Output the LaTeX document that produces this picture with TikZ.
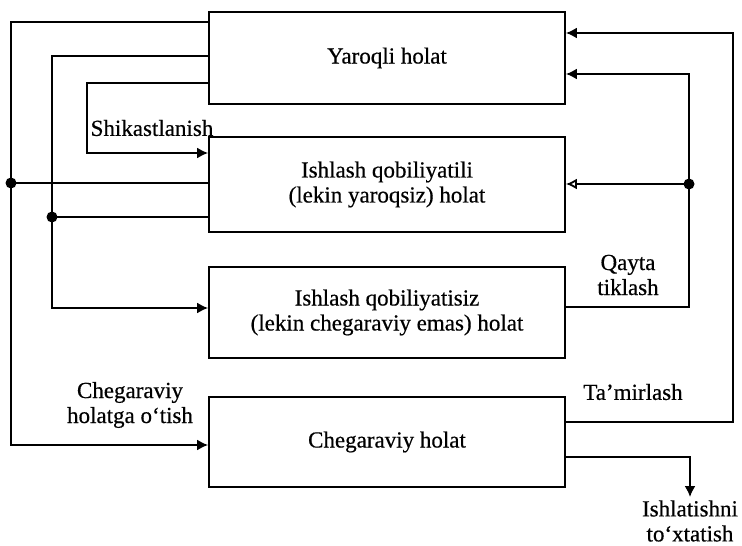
\documentclass[tikz,border=0pt]{standalone}
\usepackage{fontspec}
\setmainfont[FakeBold=0.5]{Liberation Serif}
\usetikzlibrary{arrows.meta}
\tikzset{>={Latex[width=5.5pt,length=5.5pt]}}
\tikzset{
  holat/.style={draw, line width=0.9pt, minimum width=178pt, align=center,
    inner sep=0pt, font=\fontsize{11.5}{12.5}\selectfont},
  izoh/.style={align=center, inner sep=0pt, font=\fontsize{11.5}{12.5}\selectfont},
  tugun/.style={circle, fill, inner sep=0pt, minimum size=5.5pt}
}

\begin{document}
\begin{tikzpicture}[x=0.5pt,y=-0.5pt,line width=0.9pt]
  \useasboundingbox (0,0) rectangle (742,545);

  %% the four states
  \node[holat, minimum height=46pt]   (yaroq) at (387,58)    {Yaroqli holat};
  \node[holat, minimum height=47.5pt] (ishq)  at (387,184.5) {Ishlash qobiliyatili\\(lekin yaroqsiz) holat};
  \node[holat, minimum height=45.5pt] (ishs)  at (387,312.5) {Ishlash qobiliyatisiz\\(lekin chegaraviy emas) holat};
  \node[holat, minimum height=45pt]   (cheg)  at (387,442)   {Chegaraviy holat};

  %% corners and junctions
  \coordinate (a1) at (11,22);
  \coordinate (a2) at (11,445);
  \node[tugun] (ja) at (11,183) {};
  \coordinate (b1) at (52,56);
  \coordinate (b2) at (52,308);
  \node[tugun] (jb) at (52,217) {};
  \coordinate (c1) at (87,83);
  \coordinate (c2) at (87,153);
  \coordinate (d1) at (689,74);
  \coordinate (d2) at (689,307);
  \node[tugun] (jd) at (689,184) {};
  \coordinate (e1) at (733,33);
  \coordinate (e2) at (733,422);
  \coordinate (f1) at (690,457);
  \coordinate (f2) at (690,497);

  %% left side: going down
  \draw[->] (yaroq.west |- a1) -- (a1) -- (a2) -- (cheg.west |- a2); %% 1 -> 4
  \draw (ishq.west |- ja) -- (ja.center);                           %% 2 -> 4
  \draw[->] (yaroq.west |- b1) -- (b1) -- (b2) -- (ishs.west |- b2); %% 1 -> 3
  \draw (ishq.west |- jb) -- (jb.center);                           %% 2 -> 3
  \draw[->] (yaroq.west |- c1) -- (c1) -- (c2) -- (ishq.west |- c2); %% 1 -> 2

  %% right side: going back up
  \draw[->] (ishs.east |- d2) -- (d2) -- (d1) -- (yaroq.east |- d1); %% 3 -> 1
  \draw[-{Latex[open,width=5.5pt,length=5.5pt]}] (jd.center) -- (ishq.east |- jd); %% 3 -> 2
  \draw[->] (cheg.east |- e2) -- (e2) -- (e1) -- (yaroq.east |- e1); %% 4 -> 1
  \draw[->] (cheg.east |- f1) -- (f1) -- (f2);                       %% 4 -> out

  %% labels
  \node[izoh] (shik) at (152,128) {Shikastlanish};
  \node[izoh] (otish) at (130,405) {Chegaraviy\\holatga o‘tish};
  \node[izoh] (qayta) at (628,275) {Qayta\\tiklash};
  \node[izoh] (tamir) at (633,392) {Ta’mirlash};
  \node[izoh] (toxta) at (690,521) {Ishlatishni\\to‘xtatish};

\end{tikzpicture}
\end{document}
